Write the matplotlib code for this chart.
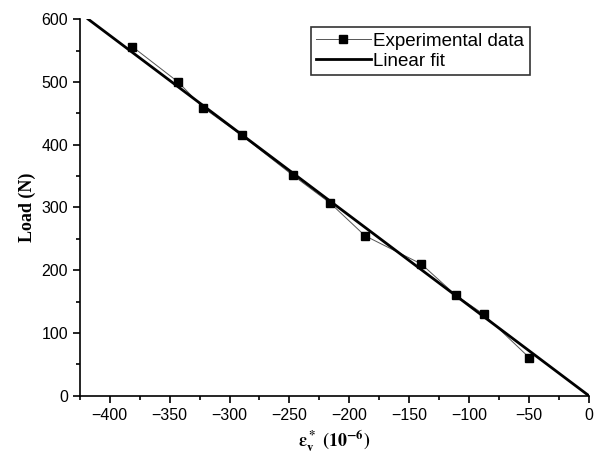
import numpy as np
import matplotlib
matplotlib.use("Agg")
import matplotlib.pyplot as plt
from matplotlib.ticker import MultipleLocator

# strain (10^-6) and load (N)
strain = [-381, -343, -322, -290, -247, -216, -187, -140, -111, -88, -50]
load = [556, 500, 459, 415, 351, 307, 255, 210, 160, 130, 61]

# linear fit through origin
fit_x = [-418, 0]
fit_y = [600, 0]

plt.rcParams['font.family'] = ['Liberation Sans', 'DejaVu Sans']
plt.rcParams['mathtext.fontset'] = 'stix'

fig = plt.figure(figsize=(5.95, 4.55), dpi=100)
ax = fig.add_axes([0.134, 0.130, 0.856, 0.828])

ax.plot(strain, load, color='#555555', lw=0.7, marker='s', ms=6,
        mfc='black', mec='black', label='Experimental data')
ax.plot(fit_x, fit_y, color='black', lw=2.0, label='Linear fit')

ax.set_xlim(-425, 0)
ax.set_ylim(0, 600)
ax.xaxis.set_major_locator(MultipleLocator(50))
ax.xaxis.set_minor_locator(MultipleLocator(25))
ax.yaxis.set_major_locator(MultipleLocator(100))
ax.yaxis.set_minor_locator(MultipleLocator(50))
ax.tick_params(which='both', direction='out', width=1.2, labelsize=11.5)
ax.tick_params(which='major', length=5)
ax.tick_params(which='minor', length=3)

for s in ['top', 'right']:
    ax.spines[s].set_visible(False)
for s in ['left', 'bottom']:
    ax.spines[s].set_linewidth(1.2)

ax.set_ylabel('Load (N)', family='Liberation Serif', fontweight='bold', fontsize=13)
ax.set_xlabel(r'$\mathbf{\varepsilon_v^*}$ $\mathbf{(10^{-6})}$', fontsize=13)

leg = ax.legend(loc='upper right', bbox_to_anchor=(0.884, 0.979),
                borderaxespad=0, frameon=True, fancybox=False,
                edgecolor='black', fontsize=13.5,
                handlelength=2.9, handletextpad=0.15, borderpad=0.3,
                labelspacing=0.15)
leg.get_frame().set_linewidth(1.2)

fig.savefig('out.png', dpi=100)
